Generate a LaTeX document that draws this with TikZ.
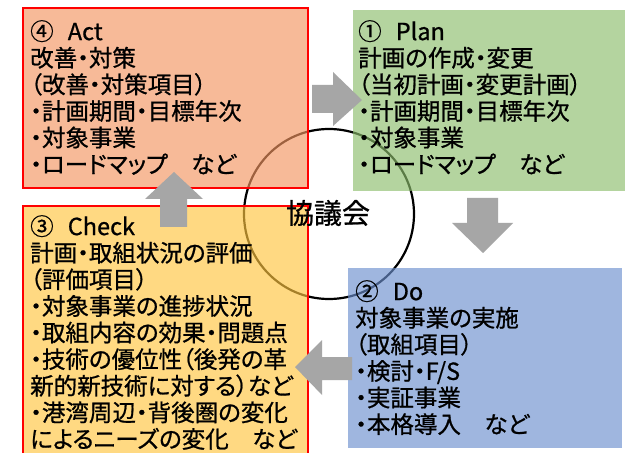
\documentclass[tikz,border=0pt]{standalone}
\usepackage{fontspec}
\setmainfont[RawFeature=+palt,FakeBold=0.8]{Noto Sans CJK JP}
\definecolor{actfill}{RGB}{243,150,98}
\definecolor{planfill}{RGB}{141,190,109}
\definecolor{dofill}{RGB}{109,144,207}
\definecolor{checkfill}{RGB}{255,197,63}
\definecolor{arrowgray}{RGB}{166,166,166}
\definecolor{borderred}{RGB}{255,0,0}
\tikzset{
  boxfill/.style={fill opacity=0.65},
  redborder/.style={draw=borderred, line width=2.6bp},
  boxtext/.style={anchor=north west, inner sep=0pt, align=left,
    font=\fontsize{23.5bp}{26.6bp}\selectfont},
  blockarrow/.style={fill=arrowgray, draw=none},
  ring/.style={draw=black, line width=2.2bp},
  centertext/.style={inner sep=0pt, font=\fontsize{28bp}{30bp}\selectfont}
}
\begin{document}
\begin{tikzpicture}[x=1bp,y=-1bp]
\useasboundingbox[fill=white] (0,0) rectangle (644,453);
% council circle (behind the semi-transparent boxes)
\draw[ring] (329,214) circle (85);
% boxes
\fill[actfill, boxfill] (23,8) rectangle (308,188);
\draw[redborder] (23,8) rectangle (308,188);
\fill[planfill, boxfill] (353,10) rectangle (625,191);
\fill[checkfill, boxfill] (23,206) rectangle (308,453);
\draw[redborder] (23,455) -- (23,206) -- (308,206) -- (308,455);
\fill[dofill, boxfill] (348,268) rectangle (622,448);
% texts
\node[boxtext] (acttxt) at (30,20) {④\hspace{0.6em}Act\\改善・対策\\（改善・対策項目）\\・計画期間・目標年次\\・対象事業\\・ロードマップ　など};
\node[boxtext] (plantxt) at (358,20) {①\hspace{0.6em}Plan\\計画の作成・変更\\（当初計画・変更計画）\\・計画期間・目標年次\\・対象事業\\・ロードマップ　など};
\node[boxtext] (checktxt) at (30,215) {③\hspace{0.6em}Check\\計画・取組状況の評価\\（評価項目）\\・対象事業の進捗状況\\・取組内容の効果・問題点\\・技術の優位性（後発の革\\新的新技術に対する）など\\・港湾周辺・背後圏の変化\\によるニーズの変化　など};
\node[boxtext] (dotxt) at (355,280) {②\hspace{0.6em}Do\\対象事業の実施\\（取組項目）\\・検討・F/S\\・実証事業\\・本格導入　など};
\node[centertext] (council) at (328,213) {協議会};
% block arrows
\fill[blockarrow] (312,85) -- (333,85) -- (333,72) -- (362,100) -- (333,126) -- (333,113) -- (312,113) -- cycle;
\fill[blockarrow] (467,198) -- (498,198) -- (498,223) -- (513,223) -- (483,253) -- (452,223) -- (467,223) -- cycle;
\fill[blockarrow] (352,357) -- (322,357) -- (322,340) -- (295,367) -- (322,395) -- (322,380) -- (352,380) -- cycle;
\fill[blockarrow] (160,227) -- (187,227) -- (187,199) -- (203,199) -- (174,172) -- (145,199) -- (160,199) -- cycle;
\end{tikzpicture}
\end{document}
